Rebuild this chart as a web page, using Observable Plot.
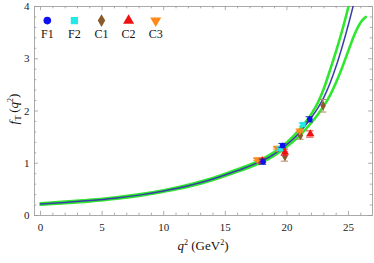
<!DOCTYPE html>
<html><head><meta charset="utf-8">
<script src="https://cdn.jsdelivr.net/npm/d3@7"></script>
<script src="https://cdn.jsdelivr.net/npm/@observablehq/plot@0.6"></script>
<style>body{margin:0;background:#fff}</style>
</head><body><div id="chart"></div>
<script>
// Central curve (blue)
const centralQ2 = [0,2,4,6,8,10,12,14,16,18,19,20,21,22,22.5,23,23.5,24,24.5,25,25.5];
const centralF  = [0.22,0.25,0.285,0.33,0.39,0.47,0.57,0.70,0.86,1.05,1.18,1.36,1.58,1.88,2.05,2.26,2.53,2.86,3.24,3.66,4.12];
// Upper band (green)
const upperQ2 = [0,2,4,6,8,10,12,14,16,18,19,20,21,22,22.5,23,23.5,24,24.5,25,25.3];
const upperF  = [0.235,0.265,0.30,0.345,0.405,0.485,0.59,0.72,0.885,1.08,1.22,1.40,1.64,1.95,2.15,2.43,2.78,3.15,3.55,4.0,4.3];
// Lower band (green)
const lowerQ2 = [0,2,4,6,8,10,12,14,16,18,19,20,21,22,22.5,23,23.5,24,24.5,25,25.5,26,26.4];
const lowerF  = [0.205,0.235,0.27,0.315,0.375,0.455,0.55,0.68,0.84,1.02,1.15,1.32,1.52,1.78,1.93,2.10,2.30,2.55,2.84,3.16,3.47,3.70,3.80];

// Lattice points
const seriesNames = ["F1","F2","C1","C2","C3"];
const f1Q2 = [18.06,19.65,21.86], f1F = [1.03,1.34,1.84], f1Err = [0.05,0.04,0.05];
const f2Q2 = [19.45,21.3], f2F = [1.28,1.74], f2Err = [0.03,0.03];
const c1Q2 = [19.84,21.1,22.94], c1F = [1.13,1.53,2.1], c1Err = [0.09,0.07,0.12];
const c2Q2 = [18.0,19.84,21.9], c2F = [1.05,1.21,1.56], c2Err = [0.05,0.06,0.06];
const c3Q2 = [17.6,19.2,21.05], c3F = [1.07,1.29,1.62], c3Err = [0.02,0.02,0.02];

const xMajor = [0,5,10,15,20,25];
const yMajor = [0,1,2,3,4];

const triDown = {draw(ctx, size){const y = -Math.sqrt(size/(Math.sqrt(3)*3)); ctx.moveTo(0,-2*y); ctx.lineTo(-Math.sqrt(3)*y, y); ctx.lineTo(Math.sqrt(3)*y, y); ctx.closePath();}};
const styles = {
  F1:{fill:"#1010ee", symbol:"circle", r:3.3, err:"#2a2a9a"},
  F2:{fill:"#22e8e8", symbol:"square", r:3.6, err:"#22c8c8"},
  C1:{fill:"#8b5a2b", symbol:"diamond", r:3.4, err:"#b08a60"},
  C2:{fill:"#ee1111", symbol:"triangle", r:3.6, err:"#e23030"},
  C3:{fill:"#ff8a1a", symbol:triDown, r:3.6, err:"#f09a40"}
};
const seriesData = {F1:[f1Q2,f1F,f1Err],F2:[f2Q2,f2F,f2Err],C1:[c1Q2,c1F,c1Err],C2:[c2Q2,c2F,c2Err],C3:[c3Q2,c3F,c3Err]};

const toPts = (xs, ys) => xs.map((x,i)=>({x, y:ys[i]}));
const X0 = -0.49, X1 = 26.95, Y0 = 0, Y1 = 4;
const xMinor = d3.range(0, 27, 1);
const yMinor = d3.range(0, 4.01, 0.2).map(v=>+v.toFixed(2));
const tkx = 0.32, tkxm = 0.18, tky = 0.08, tkym = 0.045;
const tickColor = "#999";

const marks = [
  Plot.frame({stroke:"#aaa"}),
  Plot.ruleX(xMinor, {x:d=>d, y1:Y0, y2:d=>Y0 + (xMajor.includes(d)?tky:tkym), stroke:tickColor, strokeWidth:0.8}),
  Plot.ruleX(xMinor, {x:d=>d, y1:Y1, y2:d=>Y1 - (xMajor.includes(d)?tky:tkym), stroke:tickColor, strokeWidth:0.8}),
  Plot.ruleY(yMinor, {y:d=>d, x1:X0, x2:d=>X0 + (yMajor.includes(d)?tkx:tkxm), stroke:tickColor, strokeWidth:0.8}),
  Plot.ruleY(yMinor, {y:d=>d, x1:X1, x2:d=>X1 - (yMajor.includes(d)?tkx:tkxm), stroke:tickColor, strokeWidth:0.8}),
  Plot.axisX(xMajor, {tickSize:0, tickPadding:8, fontSize:11, fill:"#222", label:null, tickFormat:d=>String(d)}),
  Plot.axisY(yMajor, {tickSize:0, tickPadding:5, fontSize:11, fill:"#222", label:null, tickFormat:d=>String(d)}),
  Plot.line(toPts(upperQ2, upperF), {x:"x", y:"y", stroke:"#2ee82e", strokeWidth:2.6, curve:"monotone-x", clip:true}),
  Plot.line(toPts(lowerQ2, lowerF), {x:"x", y:"y", stroke:"#2ee82e", strokeWidth:2.6, curve:"monotone-x", clip:true}),
  Plot.line(toPts(centralQ2, centralF), {x:"x", y:"y", stroke:"#3c3ca8", strokeWidth:1.5, curve:"monotone-x", clip:true})
];

for (const name of ["C1","C2","C3","F2","F1"]) {
  const [xs, ys, es] = seriesData[name];
  const s = styles[name];
  const pts = xs.map((x,i)=>({x, y:ys[i], e:es[i]}));
  marks.push(Plot.ruleX(pts, {x:"x", y1:d=>d.y-d.e, y2:d=>d.y+d.e, stroke:s.err, strokeWidth:1}));
  marks.push(Plot.ruleY(pts, {y:d=>d.y-d.e, x1:d=>d.x-0.3, x2:d=>d.x+0.3, stroke:s.err, strokeWidth:1}));
  marks.push(Plot.ruleY(pts, {y:d=>d.y+d.e, x1:d=>d.x-0.3, x2:d=>d.x+0.3, stroke:s.err, strokeWidth:1}));
  marks.push(Plot.dot(pts, {x:"x", y:"y", symbol:()=>s.symbol, fill:s.fill, r:s.r*0.85, stroke:"none"}));
}

seriesNames.forEach((name,i)=>{
  const s = styles[name];
  const lx = 0.55 + i*2.2;
  marks.push(Plot.dot([name], {x:()=>lx, y:()=>3.73, symbol:()=>s.symbol, fill:s.fill, r:s.r+0.5, stroke:"none"}));
  marks.push(Plot.text([name], {x:()=>lx, y:()=>3.47, text:d=>d, fontSize:12, fill:"#111"}));
});

const plot = Plot.plot({
  width:374, height:263,
  marginLeft:34, marginRight:2, marginTop:6, marginBottom:48,
  style:{fontFamily:"'Liberation Serif', serif", background:"#fff"},
  x:{domain:[X0,X1]},
  y:{domain:[Y0,Y1]},
  symbol:{type:"identity"},
  marks
});

const svg = d3.select(plot);
const yl = svg.append("text").attr("transform","translate(18,109) rotate(-90)").attr("text-anchor","middle")
  .attr("font-family","'Liberation Serif', serif").attr("font-size",13).attr("fill","#111");
yl.append("tspan").attr("font-style","italic").text("f");
yl.append("tspan").attr("font-size",9).attr("dy",3).text("T");
yl.append("tspan").attr("dy",-3).text("\u2009(");
yl.append("tspan").attr("font-style","italic").text("q");
yl.append("tspan").attr("font-size",8).attr("dy",-5).text("2");
yl.append("tspan").attr("dy",5).text(")");

const xl = svg.append("text").attr("x",203).attr("y",250).attr("text-anchor","middle")
  .attr("font-family","'Liberation Serif', serif").attr("font-size",13).attr("fill","#111");
xl.append("tspan").attr("font-style","italic").text("q");
xl.append("tspan").attr("font-size",8).attr("dy",-5).text("2");
xl.append("tspan").attr("dy",5).text(" (GeV");
xl.append("tspan").attr("font-size",8).attr("dy",-5).text("2");
xl.append("tspan").attr("dy",5).text(")");

document.getElementById("chart").append(plot);
</script>
</body></html>
